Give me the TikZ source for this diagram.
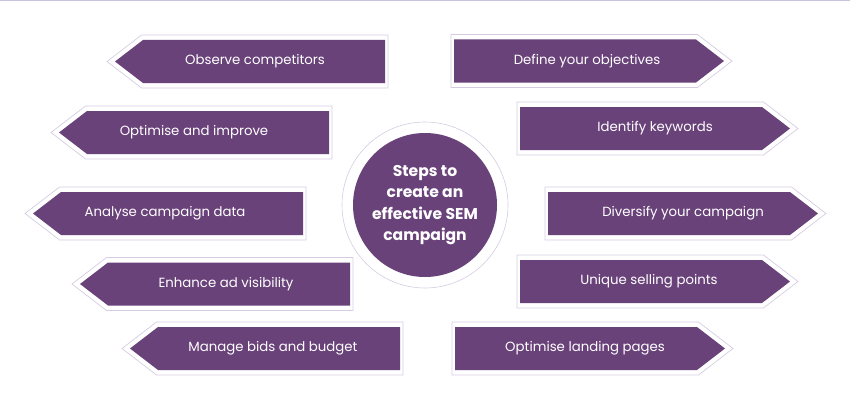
\documentclass[tikz,border=0pt]{standalone}
\usepackage{fontspec}
\setmainfont{Poppins}
\usepackage{tikz}
\definecolor{semplum}{RGB}{106,66,122}
\definecolor{semhalo}{RGB}{214,204,226}
\definecolor{semrule}{RGB}{200,194,224}

\begin{document}
\begin{tikzpicture}[
  x=1pt,y=-1pt,
  font=\fontsize{13.3}{16}\selectfont,
  halo/.style={draw=semhalo,line width=0.7pt,fill=white},
  stepfill/.style={fill=semplum},
  steptext/.style={text=white,inner sep=0pt},
  hub/.style={circle,fill=semplum,text=white,minimum size=144pt,inner sep=0pt,
    align=center,font=\fontsize{15.6}{21.5}\selectfont\bfseries},
  hubhalo/.style={circle,draw=semhalo,line width=0.6pt,fill=white,
    minimum size=166pt,inner sep=0pt},
  % #1 = shift of the text, #2 = the text
  pics/leftstep/.style 2 args={code={
    \draw[halo] (-143,0) -- (-108.5,-26.5) -- (138,-26.5) -- (138,26.5)
      -- (-108.5,26.5) -- cycle;
    \fill[stepfill] (-135,0) -- (-107,-21.5) -- (135,-21.5) -- (135,21.5)
      -- (-107,21.5) -- cycle;
    \node[steptext] (-text) at (#1,0) {#2};
  }},
  pics/rightstep/.style 2 args={code={
    \draw[halo] (143,0) -- (108.5,-26.5) -- (-138,-26.5) -- (-138,26.5)
      -- (108.5,26.5) -- cycle;
    \fill[stepfill] (135,0) -- (107,-21.5) -- (-135,-21.5) -- (-135,21.5)
      -- (107,21.5) -- cycle;
    \node[steptext] (-text) at (#1,0) {#2};
  }}
]
  \useasboundingbox (0,0) rectangle (850,412);
  \draw[semrule,line width=1pt] (0,0.5) -- (850,0.5);

  % left column
  \pic (obs) at (250,61.5) {leftstep={5}{Observe competitors}};
  \pic (opt) at (194,132.5) {leftstep={0}{Optimise and improve}};
  \pic (ana) at (168,213.5) {leftstep={-3}{Analyse campaign data}};
  \pic (enh) at (215,284) {leftstep={11}{Enhance ad visibility}};
  \pic (man) at (265,348.5) {leftstep={8}{Manage bids and budget}};

  % right column
  \pic (def) at (589,61) {rightstep={-2}{Define your objectives}};
  \pic (idk) at (655,128.5) {rightstep={0}{Identify keywords}};
  \pic (div) at (683,213.5) {rightstep={0}{Diversify your campaign}};
  \pic (usp) at (655,281.5) {rightstep={-6}{Unique selling points}};
  \pic (lan) at (590,348.5) {rightstep={-5}{Optimise landing pages}};

  % centre
  \node[hubhalo] (coreH) at (425,205) {};
  \node[hub] (core) at (425,205)
    {Steps to\\create an\\effective SEM\\campaign};
\end{tikzpicture}
\end{document}
